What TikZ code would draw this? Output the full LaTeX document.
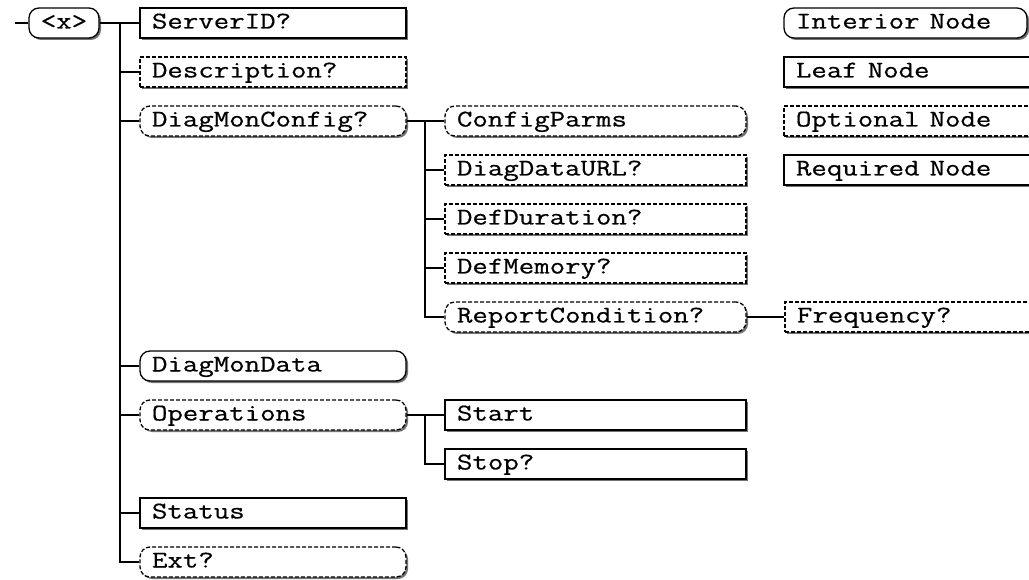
\documentclass[tikz,border=0pt]{standalone}
\usepackage{fontspec}
\setmonofont[FakeBold=0.5]{Latin Modern Mono}
\usetikzlibrary{shadows}
\newcommand{\wide}[1]{\scalebox{1.25}[1]{#1}}
\begin{document}
\begin{tikzpicture}[x=1pt,y=-1pt,
  box/.style={draw=black, line width=1.3pt, fill=white, minimum height=30pt,
    inner xsep=12pt, inner ysep=0pt, text height=15pt, text depth=4pt,
    font=\ttfamily\fontsize{24}{26}\selectfont, align=left,
    drop shadow={shadow xshift=2pt, shadow yshift=-2pt, fill=black!55, opacity=1}},
  leaf/.style={box},
  optbox/.style={box, dash pattern=on 4pt off 2pt},
  inter/.style={box, rounded corners=10pt},
  optinter/.style={inter, dash pattern=on 4pt off 2pt},
  wA/.style={text width=242pt},
  wB/.style={text width=277pt},
  wL/.style={text width=224pt},
  conn/.style={line width=1.3pt}]
\useasboundingbox[fill=white] (0,0) rectangle (1029,580);

% root
\node[inter, inner xsep=0pt, minimum width=70pt, align=center] (x) at (64,23) {\wide{<x>}};
\coordinate (in) at (15,23);

% first level
\node[leaf, wA] (sid) at (273,23) {\wide{ServerID?}};
\node[optbox, wA] (desc) at (273,72) {\wide{Description?}};
\node[optinter, wA] (dmc) at (273,121) {\wide{DiagMonConfig?}};
\node[inter, wA] (dmd) at (273,366) {\wide{DiagMonData}};
\node[optinter, wA] (ops) at (273,415) {\wide{Operations}};
\node[leaf, wA] (stat) at (273,513) {\wide{Status}};
\node[optinter, wA] (ext) at (273,562) {\wide{Ext?}};

% second level
\node[optinter, wB] (cp) at (595.5,121) {\wide{ConfigParms}};
\node[optbox, wB] (ddu) at (595.5,170) {\wide{DiagDataURL?}};
\node[optbox, wB] (dd) at (595.5,219) {\wide{DefDuration?}};
\node[optbox, wB] (dm) at (595.5,268) {\wide{DefMemory?}};
\node[optinter, wB] (rc) at (595.5,317) {\wide{ReportCondition?}};
\node[leaf, wB] (start) at (595.5,415) {\wide{Start}};
\node[leaf, wB] (stop) at (595.5,464) {\wide{Stop?}};

% third level
\node[optbox, text width=223pt] (freq) at (908.5,317) {\wide{Frequency?}};

% legend
\node[inter, text width=219pt] (li) at (905.5,23) {\wide{Interior Node}};
\node[leaf, wL] (ll) at (908,72) {\wide{Leaf Node}};
\node[optbox, wL] (lo) at (908,121) {\wide{Optional Node}};
\node[leaf, wL] (lr) at (908,170) {\wide{Required Node}};

% connectors
\coordinate (t1) at (120,23);
\coordinate (t2) at (425,121);
\coordinate (t3) at (425,415);
\draw[conn] (in) -- (x.west);
\draw[conn] (x.east) -- (sid.west);
\foreach \n in {desc,dmc,dmd,ops,stat,ext} \draw[conn] (t1) |- (\n.west);
\draw[conn] (dmc.east) -- (cp.west);
\foreach \n in {ddu,dd,dm,rc} \draw[conn] (t2) |- (\n.west);
\draw[conn] (rc.east) -- (freq.west);
\draw[conn] (ops.east) -- (start.west);
\draw[conn] (t3) |- (stop.west);
\end{tikzpicture}
\end{document}
